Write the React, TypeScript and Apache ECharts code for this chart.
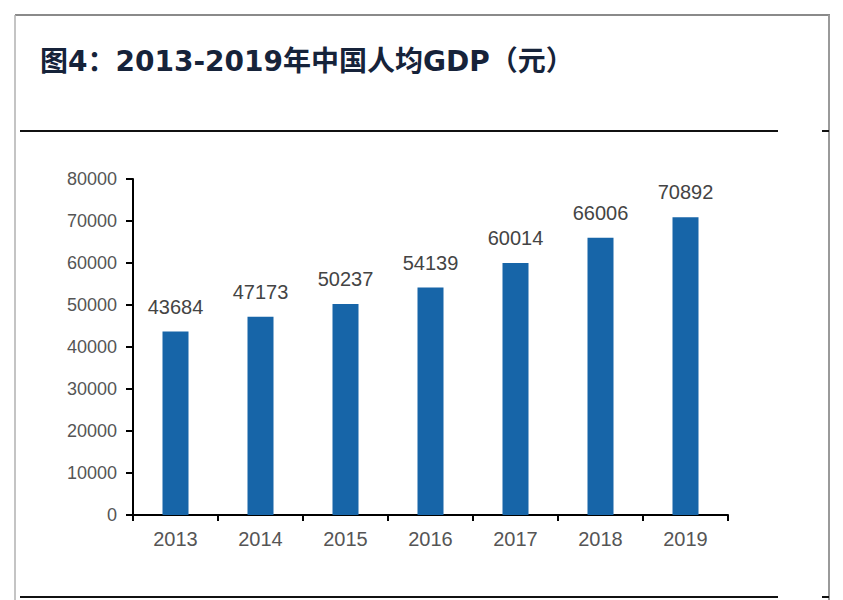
import React, { useEffect, useRef } from "react";
import * as echarts from "echarts";

const categories = ["2013", "2014", "2015", "2016", "2017", "2018", "2019"];
const gdpPerCapita = [43684, 47173, 50237, 54139, 60014, 66006, 70892];
const yMin = 0;
const yMax = 80000;
const yInterval = 10000;
const titleText = "图4：2013-2019年中国人均GDP（元）";

export default function App() {
  const ref = useRef<HTMLDivElement>(null);

  useEffect(() => {
    if (!ref.current) return;
    const chart = echarts.init(ref.current, undefined, { renderer: "svg" });
    const latin = "'Liberation Sans', Arial, sans-serif";
    chart.setOption({
      animation: false,
      backgroundColor: "#ffffff",
      graphic: [
        // frame
        { type: "line", shape: { x1: 15, y1: 15, x2: 830, y2: 15 }, style: { stroke: "#8a8a8a", lineWidth: 2 } },
        { type: "line", shape: { x1: 15, y1: 15, x2: 15, y2: 600 }, style: { stroke: "#b0b0b0", lineWidth: 1.5 } },
        { type: "line", shape: { x1: 829, y1: 15, x2: 829, y2: 600 }, style: { stroke: "#9a9a9a", lineWidth: 2 } },
        { type: "line", shape: { x1: 20, y1: 131, x2: 778, y2: 131 }, style: { stroke: "#111111", lineWidth: 2 } },
        { type: "line", shape: { x1: 822, y1: 131, x2: 829, y2: 131 }, style: { stroke: "#111111", lineWidth: 2 } },
        { type: "line", shape: { x1: 20, y1: 597, x2: 778, y2: 597 }, style: { stroke: "#111111", lineWidth: 2 } },
        { type: "line", shape: { x1: 822, y1: 597, x2: 829, y2: 597 }, style: { stroke: "#111111", lineWidth: 2 } },
        {
          type: "text",
          x: 40,
          y: 61,
          style: {
            text: titleText,
            fill: "#16233a",
            font: "bold 28px 'DejaVu Sans', 'Noto Sans CJK SC', sans-serif",
            verticalAlign: "middle",
            align: "left",
          },
        },
      ],
      grid: { left: 133, top: 179, width: 595, height: 336, containLabel: false },
      xAxis: {
        type: "category",
        data: categories,
        boundaryGap: true,
        axisLine: { show: true, lineStyle: { color: "#000000", width: 2 } },
        axisTick: { show: true, alignWithLabel: false, length: 6, lineStyle: { color: "#000000", width: 2 } },
        axisLabel: { color: "#555555", fontSize: 20, fontFamily: latin, margin: 14 },
        splitLine: { show: false },
      },
      yAxis: {
        type: "value",
        min: yMin,
        max: yMax,
        interval: yInterval,
        axisLine: { show: true, lineStyle: { color: "#000000", width: 2 } },
        axisTick: { show: true, length: 7, lineStyle: { color: "#000000", width: 2 } },
        axisLabel: {
          color: "#555555",
          fontSize: 18,
          fontFamily: latin,
          margin: 16,
          formatter: (v: number) => String(v),
        },
        splitLine: { show: false },
      },
      series: [
        {
          type: "bar",
          data: gdpPerCapita,
          barWidth: 26,
          itemStyle: { color: "#1765a8" },
          label: {
            show: true,
            position: "top",
            distance: 15,
            color: "#444444",
            fontSize: 20,
            fontFamily: latin,
          },
        },
      ],
    });
    return () => chart.dispose();
  }, []);

  return (
    <div
      ref={ref}
      style={{ position: "fixed", left: 0, top: 0, width: 843, height: 600, background: "#fff" }}
    />
  );
}
